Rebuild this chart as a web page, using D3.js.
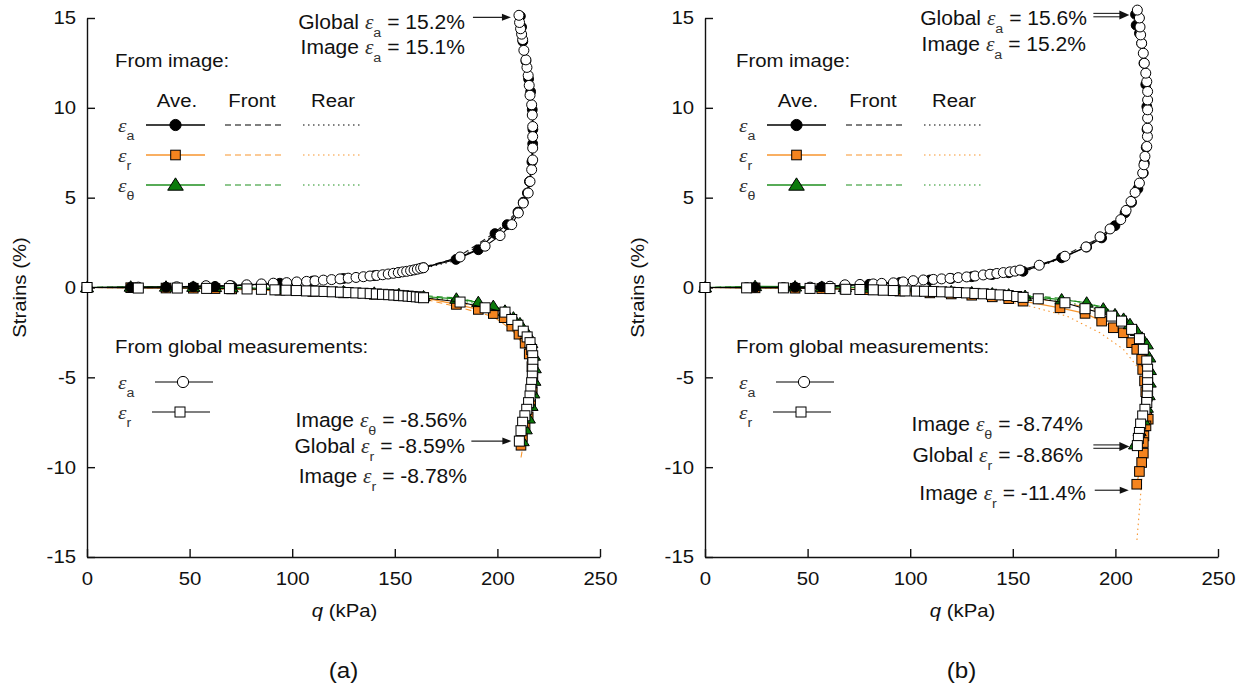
<!DOCTYPE html>
<html>
<head>
<meta charset="utf-8">
<script src="https://cdn.jsdelivr.net/npm/d3@7"></script>
<style>
  body { margin: 0; background: #fff; }
  svg text { font-family: "Liberation Sans", Arial, sans-serif; fill: #111; }
</style>
</head>
<body>
<div id="chart"></div>
<script>
// ---------- shared axis values ----------
const qTicks = [0, 50, 100, 150, 200, 250];
const strainTicks = [-15, -10, -5, 0, 5, 10, 15];

// ---------- panel (a) : [q (kPa), strain (%)] ----------
const aGlobalAxial = [
  [0,0],[25,0.02],[43.7,0.04],[58,0.1],[69.7,0.11],[77.8,0.15],[85,0.2],[90.8,0.24],[97.3,0.27],[102.2,0.31],
  [107,0.34],[111.1,0.37],[115.2,0.41],[119.2,0.44],[123.3,0.48],[127.3,0.52],[131.1,0.56],[134.7,0.6],[137.9,0.64],
  [141.2,0.67],[144.1,0.71],[146.8,0.75],[149.3,0.79],[151.7,0.83],[153.8,0.87],[155.8,0.9],[157.7,0.94],[159.4,0.98],
  [161,1.02],[162.6,1.07],[164,1.1],[181.8,1.7],[194,2.3],[201.3,2.89],[207,3.5],[210.2,4.15],[212.6,4.7],[215,5.26],
  [215.9,5.9],[216.7,6.56],[217.2,7.1],[217.2,7.76],[217.2,8.4],[217.2,8.96],[217,9.6],[216.7,10.17],[215.9,10.7],
  [215.5,11.25],[215,11.8],[214.4,12.25],[213.9,12.67],[212.9,13.2],[212.3,13.8],[211.8,14.1],[211.3,14.4],
  [210.8,14.75],[210.5,15.15]
];
const aGlobalRadial = [
  [0,0],[25,-0.03],[44,-0.03],[58.3,-0.05],[69.4,-0.06],[78,-0.08],[85,-0.1],[91.6,-0.13],[97,-0.15],[102,-0.17],
  [107,-0.19],[111.5,-0.2],[115.5,-0.22],[119.5,-0.24],[123.5,-0.26],[127.3,-0.28],[131,-0.3],[134.5,-0.32],
  [138,-0.34],[141,-0.36],[144,-0.38],[147,-0.4],[149.5,-0.42],[152,-0.44],[154.3,-0.46],[156.5,-0.48],[158.5,-0.5],
  [160.5,-0.52],[162.3,-0.54],[164,-0.57],[181.8,-0.81],[194,-1.13],[203.7,-1.37],[207,-1.78],[210,-2.1],[212.6,-2.43],
  [214.5,-2.75],[215.9,-3.07],[216.7,-3.45],[217.2,-3.8],[217.3,-4.18],[217.2,-4.55],[217,-4.93],[216.7,-5.3],
  [216.3,-5.67],[215.9,-6.04],[215.2,-6.41],[214.3,-6.78],[213.4,-7.14],[212.3,-7.5],[211.5,-7.97],[210.7,-8.55]
];
const aImageAxial = [
  [0,0],[21.3,0.01],[38.5,0.02],[51.8,0.04],[62.4,0.06],[70.5,0.09],[94,0.24],[110,0.36],[125,0.5],[140,0.66],
  [152,0.84],[164,1.1],[179.8,1.56],[190.7,2.1],[198.8,3.0],[204.8,3.5],[210,4.2],[212.6,4.75],[214.6,5.26],
  [215.6,5.9],[216.8,7.0],[217.2,8.0],[217.3,8.8],[217,9.9],[216.2,10.9],[215.2,11.6],[213.9,12.6],[212.4,13.7],
  [211.8,14.5],[211.2,15.1]
];
const aImageAxialFront = [
  [0,0],[38.5,0.03],[70.5,0.1],[94,0.26],[125,0.53],[152,0.87],[164,1.14],[179.8,1.62],[198.8,3.05],[210,4.25],
  [214.6,5.35],[216.9,7.1],[217.4,8.9],[216.4,10.9],[214.1,12.6],[211.5,15.0]
];
const aImageAxialRear = [
  [0,0],[38.5,0.01],[70.5,0.08],[94,0.22],[125,0.47],[152,0.81],[164,1.06],[179.8,1.5],[198.8,2.95],[210,4.15],
  [214.6,5.2],[216.7,6.9],[217.2,8.7],[216,10.9],[213.7,12.6],[210.9,15.2]
];
const aImageRadial = [
  [0,0],[21.3,-0.01],[38.5,-0.03],[51.8,-0.04],[62.4,-0.06],[70.5,-0.08],[94,-0.15],[110,-0.22],[125,-0.3],
  [140,-0.38],[152,-0.46],[164,-0.56],[180,-0.94],[190.7,-1.22],[198,-1.45],[203.3,-1.68],[207,-2.15],[210.5,-2.6],
  [213.5,-3.1],[215.5,-3.7],[216.8,-4.4],[217.3,-5.1],[217,-5.8],[216.2,-6.5],[215,-7.2],[213.5,-7.8],[212.2,-8.3],
  [211.5,-8.78]
];
const aImageRadialFront = [
  [0,0],[38.5,-0.03],[70.5,-0.1],[94,-0.18],[125,-0.34],[152,-0.52],[164,-0.64],[180,-1.06],[198,-1.62],[207,-2.35],
  [213.5,-3.3],[217,-4.6],[217.2,-6.0],[215.3,-7.4],[212.8,-8.6],[211.3,-9.6]
];
const aImageRadialRear = [
  [0,0],[38.5,-0.02],[70.5,-0.06],[94,-0.12],[125,-0.26],[152,-0.41],[164,-0.48],[180,-0.82],[198,-1.28],[207,-1.95],
  [213.5,-2.9],[217.2,-4.2],[217.3,-5.6],[215.7,-7.0],[213.4,-8.0],[212,-8.5]
];
const aImageTheta = [
  [0,0],[21.3,0.04],[38.5,0.04],[51.8,0.03],[62.4,0.02],[70.5,0.0],[94,-0.08],[110,-0.15],[125,-0.22],[140,-0.3],
  [152,-0.38],[164,-0.5],[180,-0.63],[190.7,-0.82],[198,-1.04],[203.7,-1.3],[207.8,-1.68],[211,-2.0],[214.3,-2.5],
  [216.5,-3.1],[217.8,-3.8],[218.2,-4.5],[218,-5.2],[217.5,-5.9],[216.6,-6.6],[215.3,-7.3],[213.8,-7.9],[212.3,-8.56]
];
const aImageThetaFront = [
  [0,0],[38.5,0.05],[70.5,0.02],[94,-0.05],[125,-0.18],[152,-0.34],[164,-0.45],[180,-0.58],[198,-0.98],[207.8,-1.6],
  [214.3,-2.4],[217.9,-3.7],[218.2,-5.1],[216.8,-6.6],[214,-7.8],[212.6,-8.4]
];
const aImageThetaRear = [
  [0,0],[38.5,0.03],[70.5,-0.02],[94,-0.11],[125,-0.26],[152,-0.42],[164,-0.55],[180,-0.68],[198,-1.1],[207.8,-1.76],
  [214.3,-2.6],[217.7,-3.9],[217.8,-5.3],[216.4,-6.6],[213.6,-7.9],[212,-8.7]
];

// ---------- panel (b) ----------
const bGlobalAxial = [
  [0,0],[20.3,0],[38.2,0],[51.2,0.02],[60.9,0.07],[68.2,0.15],[75.5,0.17],[82,0.2],[86.1,0.23],[91.8,0.26],
  [96.6,0.31],[101.5,0.38],[106.4,0.42],[111.3,0.45],[115.3,0.48],[119.4,0.51],[123.4,0.55],[127.5,0.59],[131.6,0.64],
  [135.6,0.7],[138.9,0.74],[142.2,0.78],[145.4,0.83],[148.6,0.87],[151.1,0.91],[153.5,0.97],[162.9,1.24],[175.4,1.74],
  [185.7,2.26],[192.5,2.82],[197.4,3.26],[202.6,3.78],[205.2,4.29],[207.6,4.79],[209.6,5.29],[211.7,5.81],
  [213.3,6.37],[213.9,6.83],[214.4,7.3],[215.3,7.85],[215.6,8.41],[215.6,8.87],[215.7,9.43],[215.7,9.89],
  [215.7,10.44],[215.7,10.91],[215.3,11.46],[214.8,11.93],[214.1,12.48],[213.6,13.04],[212.8,13.59],[212.3,14.06],
  [212,14.5],[211.7,15.0],[210.7,15.44]
];
const bGlobalRadial = [
  [0,0],[20.3,-0.02],[38.2,-0.02],[51.2,-0.05],[60.9,-0.06],[68.6,-0.1],[75.5,-0.11],[82,-0.13],[86.9,-0.15],
  [91.8,-0.17],[97.5,-0.19],[103,-0.2],[107,-0.21],[111.3,-0.22],[115.3,-0.24],[119.4,-0.26],[123.4,-0.28],
  [127.4,-0.3],[131.5,-0.33],[135.6,-0.35],[139.6,-0.38],[143.8,-0.41],[147.8,-0.45],[151.9,-0.5],[155,-0.55],
  [162.4,-0.63],[175.4,-0.85],[185.2,-1.18],[192.5,-1.4],[198.2,-1.59],[203,-1.87],[207.9,-2.33],[211.7,-2.85],
  [213.6,-3.44],[215.3,-4.09],[215.7,-4.55],[215.7,-4.93],[215.7,-5.3],[215.7,-5.67],[215.5,-6.04],[215.3,-6.4],
  [214.4,-6.78],[213.3,-7.15],[212.3,-7.6],[211.7,-8.07],[211.2,-8.4],[210.7,-8.8]
];
const bImageAxial = [
  [0,0],[24.4,0.01],[43.9,0.02],[56.9,0.04],[68.2,0.1],[80,0.18],[95,0.28],[109.6,0.42],[120,0.5],[130,0.6],
  [140,0.72],[148,0.82],[155,0.9],[173.8,1.65],[186,2.25],[193.3,2.76],[199.8,3.44],[204.7,4.15],[207.9,4.74],
  [211,5.5],[213.6,6.37],[214.1,6.93],[215,7.8],[215.4,8.8],[215.3,10.07],[214.8,11.3],[213.9,12.48],[212.8,13.6],
  [211.7,14.15],[210.1,14.6],[209.8,15.2]
];
const bImageAxialFront = [
  [0,0],[43.9,0.03],[68.2,0.12],[95,0.3],[120,0.53],[140,0.75],[155,0.94],[173.8,1.7],[193.3,2.82],[204.7,4.2],
  [211,5.55],[214.1,7.0],[215.5,8.8],[215.4,10.1],[214,12.5],[211.8,14.2],[210.3,15.3]
];
const bImageAxialRear = [
  [0,0],[43.9,0.01],[68.2,0.08],[95,0.26],[120,0.47],[140,0.69],[155,0.86],[173.8,1.6],[193.3,2.7],[204.7,4.1],
  [211,5.45],[214.1,6.86],[215.3,8.8],[215.2,10.0],[213.8,12.45],[211.6,14.1],[209.9,15.1]
];
const bImageRadial = [
  [0,0],[24.4,-0.02],[43.9,-0.04],[56.9,-0.06],[68.2,-0.08],[80,-0.12],[95,-0.2],[109.6,-0.3],[120,-0.36],
  [130,-0.43],[140,-0.52],[148,-0.62],[155,-0.76],[173,-1.13],[185.2,-1.44],[193.3,-1.87],[199,-2.24],[203.9,-2.52],
  [207.9,-3.07],[210.4,-3.44],[212.8,-4.0],[213.3,-4.56],[214.2,-5.2],[214.8,-5.8],[215.1,-6.4],[215.3,-7.06],
  [216,-7.33],[214.9,-7.7],[213.9,-8.26],[213.6,-8.63],[213.6,-9.22],[212.8,-9.74],[211.7,-10.24],[210.4,-10.95]
];
const bImageRadialFront = [
  [0,0],[24.4,-0.01],[43.9,-0.02],[68.2,-0.05],[95,-0.14],[120,-0.28],[140,-0.42],[155,-0.55],[173,-0.8],[186,-1.1],
  [194,-1.4],[201,-1.8],[206,-2.3],[210,-2.9],[214,-3.8],[216.3,-5.0],[217,-6.5],[216.5,-7.6],[214.5,-8.4],[212.5,-9.2]
];
const bImageRadialRear = [
  [0,0],[24.4,-0.03],[43.9,-0.06],[68.2,-0.12],[95,-0.25],[120,-0.42],[140,-0.6],[158.4,-1.04],[176.3,-1.59],
  [192.5,-2.52],[203.9,-3.44],[210.4,-4.37],[212.3,-4.9],[212.8,-6.4],[213.6,-8.26],[213.3,-10.1],[212,-11.96],
  [210.4,-14.2]
];
const bImageTheta = [
  [0,0],[24.4,0.07],[43.9,0.05],[56.9,0.03],[68.2,0.02],[80,-0.02],[95,-0.08],[109.6,-0.16],[120,-0.22],[130,-0.28],
  [140,-0.34],[148,-0.4],[156,-0.48],[173.8,-0.67],[186,-0.85],[194.1,-1.18],[199.8,-1.5],[204,-1.75],[207.1,-2.05],
  [210.4,-2.43],[213,-2.8],[215.3,-3.17],[216.5,-3.9],[216.8,-4.6],[216.7,-5.3],[216.2,-6.0],[215.3,-6.7],
  [213.8,-7.4],[211.8,-8.0],[209.6,-8.74]
];
const bImageThetaFront = [
  [0,0],[43.9,0.07],[68.2,0.04],[95,-0.05],[120,-0.18],[140,-0.3],[156,-0.43],[173.8,-0.6],[194.1,-1.08],[204,-1.65],
  [210.4,-2.3],[215.3,-3.05],[216.9,-4.5],[216.4,-6.0],[214.3,-7.3],[210.6,-8.5]
];
const bImageThetaRear = [
  [0,0],[43.9,0.03],[68.2,0.0],[95,-0.11],[120,-0.26],[140,-0.38],[156,-0.53],[173.8,-0.74],[194.1,-1.28],[204,-1.85],
  [210.4,-2.56],[215.1,-3.3],[216.6,-4.7],[216,-6.0],[213.3,-7.5],[208.8,-9.0]
];

// ---------- annotation texts ----------
const aNotes = ["Global ~_a = 15.2%", "Image ~_a = 15.1%", "Image ~_θ = -8.56%", "Global ~_r = -8.59%", "Image ~_r = -8.78%"];
const bNotes = ["Global ~_a = 15.6%", "Image ~_a = 15.2%", "Image ~_θ = -8.74%", "Global ~_r = -8.86%", "Image ~_r = -11.4%"];
const legendHeads = ["Ave.", "Front", "Rear"];
const legendSubs = ["a", "r", "θ"];

// ---------- styling ----------
const ORANGE_FILL = "#f5841f", ORANGE_LINE = "#f7952e";
const GREEN_FILL = "#0b7a0b", GREEN_LINE = "#1f8f1f";
const DASH = "6,4", DOT = "1.5,3.5";
const yTop = 18, yBottom = 557;

const svg = d3.select("#chart").append("svg")
  .attr("width", 1247).attr("height", 690);

// text with epsilon (~) and subscripts (_x), slightly stretched like the original
function rich(g, str, x, y, o = {}) {
  const size = o.size || 18.5, sx = o.sx || 1.1;
  const t = g.append("text")
    .attr("transform", `translate(${x},${y}) scale(${sx},1)`)
    .attr("text-anchor", o.anchor || "start")
    .style("font-size", size + "px");
  let shift = 0;
  str.split(/(~|_.)/).forEach(tok => {
    if (!tok) return;
    const ts = t.append("tspan");
    if (tok === "~") {
      ts.text("ε").style("font-family", "'Liberation Serif', serif").style("font-style", "italic")
        .style("font-size", (size * 1.02) + "px").style("fill", "#333");
      if (shift) { ts.attr("dy", -shift); shift = 0; }
    } else if (tok[0] === "_" && tok.length === 2) {
      ts.text(tok[1]).style("font-size", (size * 0.68) + "px").attr("dy", 8).style("fill", "#333");
      shift = 8;
    } else {
      ts.text(tok);
      if (shift) { ts.attr("dy", -shift); shift = 0; }
    }
  });
  return t;
}

function marker(g, type, cx, cy, s, fill) {
  if (type === "circle") {
    g.append("circle").attr("cx", cx).attr("cy", cy).attr("r", s)
      .attr("fill", fill).attr("stroke", "#000").attr("stroke-width", 1);
  } else if (type === "square") {
    g.append("rect").attr("x", cx - s).attr("y", cy - s).attr("width", 2 * s).attr("height", 2 * s)
      .attr("fill", fill).attr("stroke", "#000").attr("stroke-width", 1);
  } else {
    g.append("path")
      .attr("d", `M${cx},${cy - s * 1.1}L${cx + s * 1.2},${cy + s * 0.8}L${cx - s * 1.2},${cy + s * 0.8}Z`)
      .attr("fill", fill).attr("stroke", "#000").attr("stroke-width", 1);
  }
}

function arrow(g, x2, y, len, double) {
  const x1 = x2 - len;
  if (double) {
    [-1.7, 1.7].forEach(o => g.append("line").attr("x1", x1).attr("x2", x2 - 8).attr("y1", y + o).attr("y2", y + o)
      .attr("stroke", "#222").attr("stroke-width", 1.1));
    g.append("path").attr("d", `M${x2},${y}L${x2 - 10},${y - 4.5}L${x2 - 10},${y + 4.5}Z`).attr("fill", "#111");
  } else {
    g.append("line").attr("x1", x1).attr("x2", x2 - 6).attr("y1", y).attr("y2", y)
      .attr("stroke", "#222").attr("stroke-width", 1.2);
    g.append("path").attr("d", `M${x2},${y}L${x2 - 9},${y - 3.5}L${x2 - 9},${y + 3.5}Z`).attr("fill", "#111");
  }
}

function drawPanel(p) {
  const x = d3.scaleLinear().domain([0, 250]).range([p.x0, p.x1]);
  const y = d3.scaleLinear().domain([-15, 15]).range([yBottom, yTop]);
  const g = svg.append("g");
  const line = d3.line().x(d => x(d[0])).y(d => y(d[1]));

  // axes (ticks point inward)
  const yAx = g.append("g").attr("transform", `translate(${p.x0},0)`)
    .call(d3.axisLeft(y).tickValues(strainTicks).tickSizeInner(-8).tickSizeOuter(0).tickPadding(10).tickFormat(d => String(d)));
  const xAx = g.append("g").attr("transform", `translate(0,${yBottom})`)
    .call(d3.axisBottom(x).tickValues(qTicks).tickSizeInner(-8).tickSizeOuter(0).tickPadding(15).tickFormat(d => String(d)));
  [yAx, xAx].forEach(ax => {
    ax.selectAll("path, line").attr("stroke", "#111").attr("stroke-width", 1.4);
    ax.selectAll("text").style("font-size", "18.5px").style("fill", "#111")
      .style("font-family", "'Liberation Sans', Arial, sans-serif").attr("transform", "scale(1.1,1)");
  });

  g.append("text").attr("transform", `translate(${p.x0 - 67},${(yTop + yBottom) / 2}) rotate(-90) scale(1.1,1)`)
    .attr("text-anchor", "middle").attr("dy", "0.35em").style("font-size", "18.5px").text("Strains (%)");
  const xt = g.append("text").attr("transform", `translate(${(p.x0 + p.x1) / 2 + 1},617) scale(1.1,1)`)
    .attr("text-anchor", "middle").style("font-size", "18.5px");
  xt.append("tspan").style("font-style", "italic").text("q");
  xt.append("tspan").text(" (kPa)");
  g.append("text").attr("transform", `translate(${(p.x0 + p.x1) / 2},678) scale(1.1,1)`)
    .attr("text-anchor", "middle").style("font-size", "22px").text(p.tag);

  // front / rear image lines
  const fr = [
    [p.axialFront, "#222", DASH], [p.axialRear, "#222", DOT],
    [p.radialFront, ORANGE_LINE, DASH], [p.radialRear, ORANGE_LINE, DOT],
    [p.thetaFront, GREEN_LINE, DASH], [p.thetaRear, GREEN_LINE, DOT]
  ];
  fr.forEach(([d, c, da]) => g.append("path").attr("d", line(d)).attr("fill", "none")
    .attr("stroke", c).attr("stroke-width", 1.1).attr("stroke-dasharray", da));

  // image averages
  const avg = [
    [p.radial, ORANGE_LINE, "square", 4.8, ORANGE_FILL],
    [p.theta, GREEN_LINE, "triangle", 5.5, GREEN_FILL],
    [p.axial, "#000", "circle", 4.9, "#000"]
  ];
  avg.forEach(([d, c]) => g.append("path").attr("d", line(d)).attr("fill", "none")
    .attr("stroke", c).attr("stroke-width", 1.2));
  avg.forEach(([d, c, type, s, fill]) => {
    const mg = g.append("g");
    d.forEach(pt => marker(mg, type, x(pt[0]), y(pt[1]), s, fill));
  });

  // global measurements
  const glob = [[p.gAxial, "circle", 5], [p.gRadial, "square", 5]];
  glob.forEach(([d, type, s]) => {
    g.append("path").attr("d", line(d)).attr("fill", "none").attr("stroke", "#000").attr("stroke-width", 1.1);
    const mg = g.append("g");
    d.forEach(pt => marker(mg, type, x(pt[0]), y(pt[1]), s, "#fff"));
  });

  // legend: from image
  const L = p.x0 + p.lx;
  rich(g, "From image:", L + 28, 66.5);
  const heads = [L + 90, L + 165, L + 246];
  legendHeads.forEach((h, i) => rich(g, h, heads[i], 107, { anchor: "middle" }));
  const rowY = [125, 155, 185];
  const rowCol = ["#000", ORANGE_LINE, GREEN_LINE];
  const rowMk = [["circle", 5.6, "#000"], ["square", 4.8, ORANGE_FILL], ["triangle", 6.5, GREEN_FILL]];
  legendSubs.forEach((s, i) => {
    const yy = rowY[i];
    rich(g, "~_" + s, L + 31, yy + 7, { size: 19 });
    g.append("line").attr("x1", L + 59).attr("x2", L + 118).attr("y1", yy).attr("y2", yy)
      .attr("stroke", rowCol[i]).attr("stroke-width", 1.3);
    marker(g, rowMk[i][0], L + 88.5, yy, rowMk[i][1], rowMk[i][2]);
    g.append("line").attr("x1", L + 138).attr("x2", L + 197).attr("y1", yy).attr("y2", yy)
      .attr("stroke", rowCol[i]).attr("stroke-width", 1.1).attr("stroke-dasharray", DASH);
    g.append("line").attr("x1", L + 216).attr("x2", L + 275).attr("y1", yy).attr("y2", yy)
      .attr("stroke", rowCol[i]).attr("stroke-width", 1.1).attr("stroke-dasharray", DOT);
  });

  // legend: from global measurements
  rich(g, "From global measurements:", L + 28, 353);
  [["a", "circle", 382, 68], ["r", "square", 412, 65]].forEach(([s, type, yy, x1]) => {
    rich(g, "~_" + s, L + 31, yy + 7, { size: 19 });
    g.append("line").attr("x1", L + x1).attr("x2", L + x1 + 58).attr("y1", yy).attr("y2", yy)
      .attr("stroke", "#555").attr("stroke-width", 1.3);
    marker(g, type, L + x1 + 28, yy, type === "circle" ? 5.6 : 5, "#fff");
  });

  // annotations
  p.notes.forEach((n, i) => rich(g, n, p.noteX[i], p.noteY[i], { anchor: "end", size: 19.5, sx: 1.08 }));
  p.arrows.forEach(a => {
    const last = a.data[a.data.length - 1];
    arrow(g, x(last[0]) - 8, y(last[1]) + a.dy, a.len, a.double);
  });
}

drawPanel({
  x0: 87, x1: 600, tag: "(a)", lx: 0,
  gAxial: aGlobalAxial, gRadial: aGlobalRadial,
  axial: aImageAxial, axialFront: aImageAxialFront, axialRear: aImageAxialRear,
  radial: aImageRadial, radialFront: aImageRadialFront, radialRear: aImageRadialRear,
  theta: aImageTheta, thetaFront: aImageThetaFront, thetaRear: aImageThetaRear,
  notes: aNotes, noteX: [465, 465, 467, 465, 467], noteY: [29, 54, 427, 453, 483],
  arrows: [
    { data: aGlobalAxial, dy: 2, len: 38, double: false },
    { data: aGlobalRadial, dy: 0, len: 40, double: false }
  ]
});
drawPanel({
  x0: 705, x1: 1218, tag: "(b)", lx: 3,
  gAxial: bGlobalAxial, gRadial: bGlobalRadial,
  axial: bImageAxial, axialFront: bImageAxialFront, axialRear: bImageAxialRear,
  radial: bImageRadial, radialFront: bImageRadialFront, radialRear: bImageRadialRear,
  theta: bImageTheta, thetaFront: bImageThetaFront, thetaRear: bImageThetaRear,
  notes: bNotes, noteX: [1087, 1086, 1083, 1083, 1086], noteY: [25, 51, 431, 462, 500],
  arrows: [
    { data: bGlobalAxial, dy: 5, len: 36, double: true },
    { data: bGlobalRadial, dy: 1, len: 36, double: true },
    { data: bImageRadial, dy: 6, len: 34, double: false }
  ]
});
</script>
</body>
</html>
